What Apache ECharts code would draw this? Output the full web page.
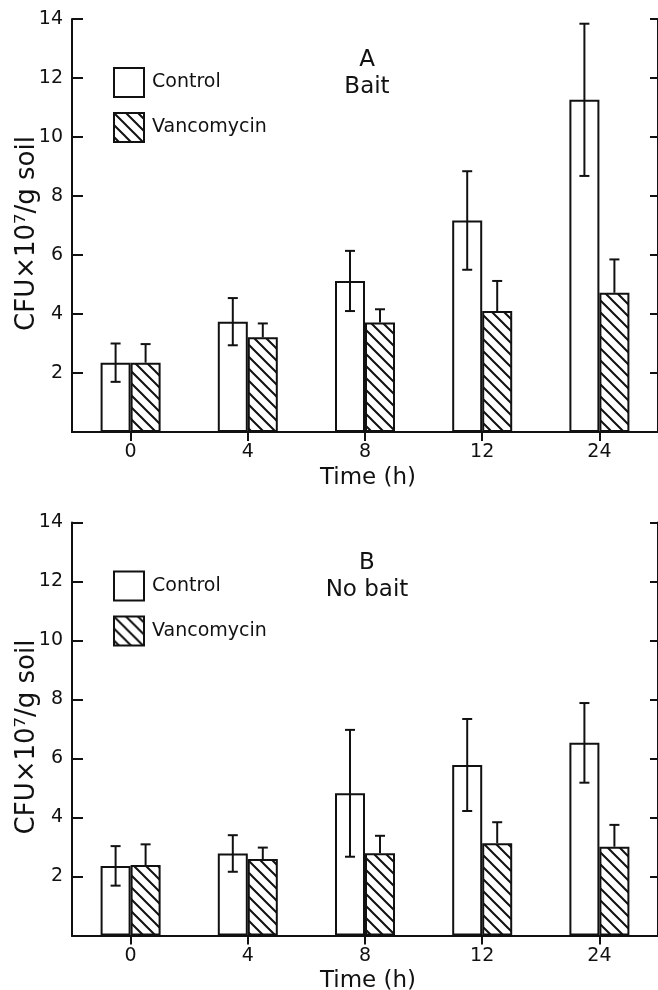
<!DOCTYPE html>
<html>
<head>
<meta charset="utf-8">
<script src="https://cdn.jsdelivr.net/npm/echarts@6/dist/echarts.min.js"></script>
<style>
html,body{margin:0;padding:0;background:#fff;}
#chart{width:658px;height:990px;}
</style>
</head>
<body>
<div id="chart"></div>
<script>
// ---- data ----
const categories = ['0', '4', '8', '12', '24'];
const seriesNames = ['Control', 'Vancomycin'];
const panelLetters = ['A', 'B'];
const panelLabels = ['Bait', 'No bait'];
const yTitle = 'CFU\u00d710\u2077/g soil';
const xTitle = 'Time (h)';
const yMin = 0, yMax = 14, yStep = 2;

// Panel A (Bait)
const baitControl = [2.35, 3.74, 5.12, 7.17, 11.26];
const baitControlErr = [0.65, 0.80, 1.02, 1.67, 2.58];
const baitVanc = [2.35, 3.21, 3.71, 4.10, 4.72];
const baitVancErr = [0.63, 0.47, 0.45, 1.02, 1.13];

// Panel B (No bait)
const noBaitControl = [2.36, 2.78, 4.82, 5.78, 6.53];
const noBaitControlErr = [0.67, 0.62, 2.15, 1.56, 1.35];
const noBaitVanc = [2.39, 2.59, 2.79, 3.13, 3.01];
const noBaitVancErr = [0.70, 0.39, 0.59, 0.71, 0.74];

// ---- styling ----
const INK = '#111';
const FONT = '"DejaVu Sans", sans-serif';
const BAR_W = 30;

function hatchCanvas() {
  const s = 12;
  const c = document.createElement('canvas');
  c.width = s; c.height = s;
  const g = c.getContext('2d');
  g.fillStyle = '#fff';
  g.fillRect(0, 0, s, s);
  g.strokeStyle = INK;
  g.lineWidth = 2;
  g.beginPath();
  [-s, 0, s].forEach(k => { g.moveTo(k - s / 2, -s / 2); g.lineTo(k + s * 1.5, s * 1.5); });
  g.stroke();
  return c;
}
const hatch = { image: hatchCanvas(), repeat: 'repeat' };

const panels = [
  { control: baitControl, controlErr: baitControlErr, vanc: baitVanc, vancErr: baitVancErr, top: 19 },
  { control: noBaitControl, controlErr: noBaitControlErr, vanc: noBaitVanc, vancErr: noBaitVancErr, top: 522.5 }
];
const gridH = 413;

const grids = [], xAxes = [], yAxes = [], series = [], legends = [], graphics = [];

panels.forEach((p, i) => {
  grids.push({ left: 72, top: p.top, width: 592, height: gridH, containLabel: false });
  xAxes.push({
    type: 'category', gridIndex: i, data: categories, position: 'bottom',
    axisLine: { lineStyle: { color: INK, width: 2 } },
    axisTick: { show: false },
    axisLabel: { color: INK, fontSize: 19, fontFamily: FONT, margin: 11 }
  });
  xAxes.push({
    type: 'category', gridIndex: i, data: categories, position: 'top',
    axisLine: { lineStyle: { color: INK, width: 2 } },
    axisTick: { show: true, inside: true, length: 9, alignWithLabel: true, lineStyle: { color: INK, width: 2 } },
    axisLabel: { show: false }
  });
  yAxes.push({
    type: 'value', gridIndex: i, min: yMin, max: yMax, interval: yStep, position: 'left',
    axisLine: { show: true, lineStyle: { color: INK, width: 2 } },
    axisTick: { show: true, inside: true, length: 11, lineStyle: { color: INK, width: 2 } },
    splitLine: { show: false },
    axisLabel: { color: INK, fontSize: 19, fontFamily: FONT, margin: 9,
      formatter: v => (v === 0 ? '' : String(v)) }
  });
  yAxes.push({
    type: 'value', gridIndex: i, min: yMin, max: yMax, interval: yStep, position: 'right',
    axisLine: { show: true, lineStyle: { color: INK, width: 2 } },
    axisTick: { show: true, inside: true, length: 8, lineStyle: { color: INK, width: 2 } },
    splitLine: { show: false },
    axisLabel: { show: false }
  });

  const xi = i * 2, yi = i * 2;
  series.push({
    name: seriesNames[0], type: 'bar', xAxisIndex: xi, yAxisIndex: yi,
    data: p.control, barWidth: BAR_W, barGap: '0%',
    itemStyle: { color: '#fff', borderColor: INK, borderWidth: 2 }, z: 2
  });
  series.push({
    name: seriesNames[1], type: 'bar', xAxisIndex: xi, yAxisIndex: yi,
    data: p.vanc, barWidth: BAR_W, barGap: '0%',
    itemStyle: { color: hatch, borderColor: INK, borderWidth: 2 }, z: 2
  });

  const mkErr = (vals, errs, offset, both) => ({
    type: 'custom', xAxisIndex: xi, yAxisIndex: yi, z: 5, silent: true,
    data: vals.map((v, k) => [k, v, errs[k]]),
    renderItem: (params, api) => {
      const x = api.value(0), y = api.value(1), e = api.value(2);
      const base = api.coord([x, y]);
      const hi = api.coord([x, y + e]);
      const lo = api.coord([x, y - e]);
      const cx = base[0] + offset;
      const cap = 5;
      const ls = { stroke: INK, lineWidth: 2 };
      const children = [
        { type: 'line', shape: { x1: cx, y1: hi[1], x2: cx, y2: both ? lo[1] : base[1] }, style: ls },
        { type: 'line', shape: { x1: cx - cap, y1: hi[1], x2: cx + cap, y2: hi[1] }, style: ls }
      ];
      if (both) children.push({ type: 'line', shape: { x1: cx - cap, y1: lo[1], x2: cx + cap, y2: lo[1] }, style: ls });
      return { type: 'group', children };
    }
  });
  series.push(mkErr(p.control, p.controlErr, -BAR_W / 2, true));
  series.push(mkErr(p.vanc, p.vancErr, BAR_W / 2, false));

  legends.push({
    data: seriesNames, orient: 'vertical', left: 113, top: p.top + 48, padding: 0,
    itemWidth: 30, itemHeight: 29, itemGap: 14, icon: 'rect',
    itemStyle: { borderColor: INK, borderWidth: 2 },
    textStyle: { color: INK, fontSize: 19, fontFamily: FONT, padding: [0, 0, 0, 3] },
    selectedMode: false
  });

  graphics.push({ type: 'text', x: 367, y: p.top + 41, style: { text: panelLetters[i], fill: INK, font: '23px ' + FONT, textAlign: 'center', textVerticalAlign: 'middle' } });
  graphics.push({ type: 'text', x: 367, y: p.top + 68, style: { text: panelLabels[i], fill: INK, font: '23px ' + FONT, textAlign: 'center', textVerticalAlign: 'middle' } });
  graphics.push({ type: 'text', x: 27, y: p.top + gridH / 2 + 8, rotation: Math.PI / 2,
    style: { text: yTitle, fill: INK, font: '26px ' + FONT, textAlign: 'center', textVerticalAlign: 'middle' } });
  graphics.push({ type: 'text', x: 368, y: p.top + gridH + 46, style: { text: xTitle, fill: INK, font: '23px ' + FONT, textAlign: 'center', textVerticalAlign: 'middle' } });
});

const chart = echarts.init(document.getElementById('chart'), null, { renderer: 'canvas' });
chart.setOption({
  backgroundColor: '#fff',
  animation: false,
  grid: grids,
  xAxis: xAxes,
  yAxis: yAxes,
  legend: legends,
  series: series,
  graphic: graphics
});
</script>
</body>
</html>
